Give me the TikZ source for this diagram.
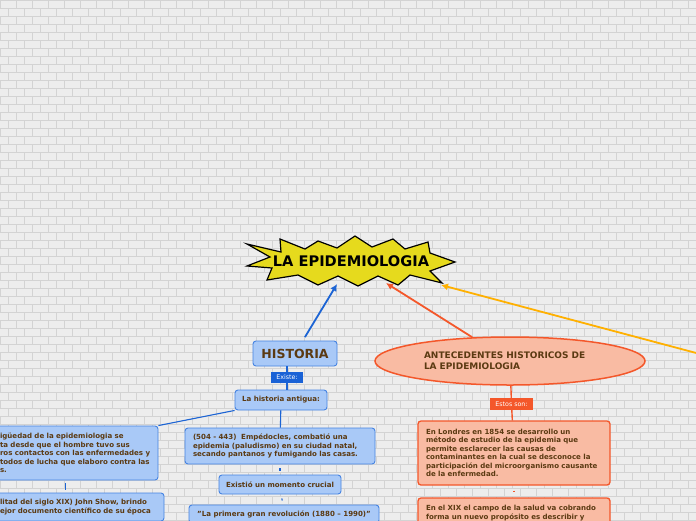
\documentclass[tikz,border=0pt]{standalone}
\usepackage{fontspec}
\setmainfont{DejaVu Sans}
\usetikzlibrary{arrows.meta,shapes.geometric}
\definecolor{bluefill}{HTML}{A9C9F7}
\definecolor{blueline}{HTML}{4583E2}
\definecolor{bluecon}{HTML}{1C64D4}
\definecolor{bluetag}{HTML}{1A62D6}
\definecolor{salmon}{HTML}{F9BBA3}
\definecolor{orline}{HTML}{F4572A}
\definecolor{amber}{HTML}{FFB000}
\definecolor{txtbrown}{HTML}{5B3A12}
\definecolor{yell}{HTML}{E6DA1D}
\definecolor{bg}{HTML}{EDEDED}
\definecolor{mortar}{HTML}{D3D3D3}
\begin{document}
\begin{tikzpicture}[x=1pt,y=-1pt,
  sm/.style={font=\fontsize{7.05}{8.5}\selectfont\bfseries, text=txtbrown},
  bluebox/.style={sm, draw=blueline, fill=bluefill, rounded corners=3pt, line width=0.9pt, inner sep=0pt},
  orbox/.style={sm, draw=orline, fill=salmon, rounded corners=3pt, line width=1.3pt, inner sep=0pt},
  tagbox/.style={font=\fontsize{6.3}{7}\selectfont, text=white, inner sep=0pt},
  bcon/.style={draw=bluecon, line width=1.1pt},
  ocon/.style={draw=orline, line width=1.4pt},
  arr/.style={line width=1.8pt, -{Latex[length=7pt,width=7pt]}}
]
\useasboundingbox (0,0) rectangle (696,520);
\clip (0,0) rectangle (696,520);
% brick background
\fill[bg] (0,0) rectangle (696,520);
\foreach \r in {0,...,65}{
  \pgfmathtruncatemacro\off{mod(\r,2)*8}
  \draw[mortar, line width=0.6pt] (0,\r*8) -- (696,\r*8);
  \draw[mortar, line width=0.6pt] \foreach \c in {0,...,44}{(\c*16+\off,\r*8) -- ++(0,8)};
}
% title star
\draw[fill=yell, line width=1.2pt, line join=miter]
  (247,244) -- (281,252) -- (280,239) -- (305,249) -- (318,241) -- (337,248)
  -- (355,236) -- (372,247) -- (393,239) -- (405,249) -- (428,242) -- (430,253)
  -- (455,262) -- (430,271) -- (442,283) -- (410,275) -- (398,285) -- (378,276)
  -- (358,286) -- (338,276) -- (318,285) -- (298,275) -- (267,280) -- (272,268)
  -- (247,266) -- (270,257) -- cycle;
\node[ellipse, minimum width=208pt, minimum height=46pt, inner sep=0pt,
      font=\fontsize{14.6}{16}\selectfont\bfseries] (title) at (351,261) {LA EPIDEMIOLOGIA};
\coordinate (amtip) at (441,285);
\coordinate (offr) at (730,362);

% left branch
\node[bluebox, minimum width=84pt, minimum height=25pt,
      font=\fontsize{12.5}{14}\selectfont\bfseries] (hist) at (295,353.5) {HISTORIA};
\node[tagbox, fill=bluetag, minimum width=32pt, minimum height=11pt] (existe) at (287,377.5) {Existe:};
\node[bluebox, minimum width=92pt, minimum height=20pt] (antigua) at (281,400) {La historia antigua:};
\node[bluebox, minimum width=165pt, minimum height=54pt, text width=151pt, align=left] (left1) at (75.5,453)
  {igüedad de la epidemiologia se\\ta desde que el hombre tuvo sus\\ros contactos con las enfermedades y\\todos de lucha que elaboro contra las\\s.};
\node[bluebox, minimum width=171pt, minimum height=28pt, text width=157pt, align=left] (left2) at (78.5,507)
  {litad del siglo XIX) John Show, brindo\\ejor documento científico de su época};
\node[bluebox, minimum width=190pt, minimum height=36pt, text width=174pt, align=left] (mid1) at (280,446)
  {(504 - 443)\ \ Empédocles, combatió una\\epidemia (paludismo) en su ciudad natal,\\secando pantanos y fumigando las casas.};
\node[bluebox, minimum width=122pt, minimum height=19pt] (crucial) at (280,484.5) {Existió un momento crucial};
\node[bluebox, minimum width=190pt, minimum height=18pt] (primera) at (284,514) {"La primera gran revolución (1880 – 1990)"};

% right branch
\node[ellipse, draw=orline, fill=salmon, line width=1.5pt, minimum width=270pt, minimum height=48pt,
      inner sep=0pt, font=\fontsize{9}{11}\selectfont\bfseries, text=txtbrown, text width=172pt, align=left] (ante) at (510,361)
  {ANTECEDENTES HISTORICOS DE\\LA EPIDEMIOLOGIA};
\node[tagbox, fill=orline, minimum width=43pt, minimum height=12pt] (estos) at (511.5,404) {Estos son:};
\node[orbox, minimum width=192pt, minimum height=64pt, text width=176pt, align=left] (right1) at (514,453)
  {En Londres en 1854 se desarrollo un\\método de estudio de la epidemia que\\permite esclarecer las causas de\\contaminantes en la cual se desconoce la\\participación del microorganismo causante\\de la enfermedad.};
\node[orbox, minimum width=192pt, minimum height=30pt, text width=176pt, align=left] (right2) at (514,513)
  {En el XIX el campo de la salud va cobrando\\forma un nuevo propósito es describir y};

% connectors
\draw[bcon] (existe) -- (existe |- hist.south);
\draw[bcon] (existe) -- (existe |- antigua.north);
\draw[bcon] (antigua.south west) -- (left1.north east);
\draw[bcon] (antigua) -- (mid1);
\draw[bcon, shorten <=4pt, shorten >=4pt] (mid1) -- (crucial);
\draw[bcon, shorten <=4pt, shorten >=4pt] (crucial) -- (primera);
\draw[bcon, shorten <=3pt, shorten >=3pt] (left1.-110) -- (left1.-110 |- left2.north);
\draw[ocon] (ante) -- (estos);
\draw[ocon] (estos) -- (right1);
\draw[ocon, shorten <=5pt, shorten >=5pt] (right1) -- (right2);

% arrows to title
\draw[arr, bluecon, shorten <=4pt] (hist) -- (title);
\draw[arr, orline] (ante) -- (title);
\draw[arr, amber] (offr) -- (amtip);
\end{tikzpicture}
\end{document}
